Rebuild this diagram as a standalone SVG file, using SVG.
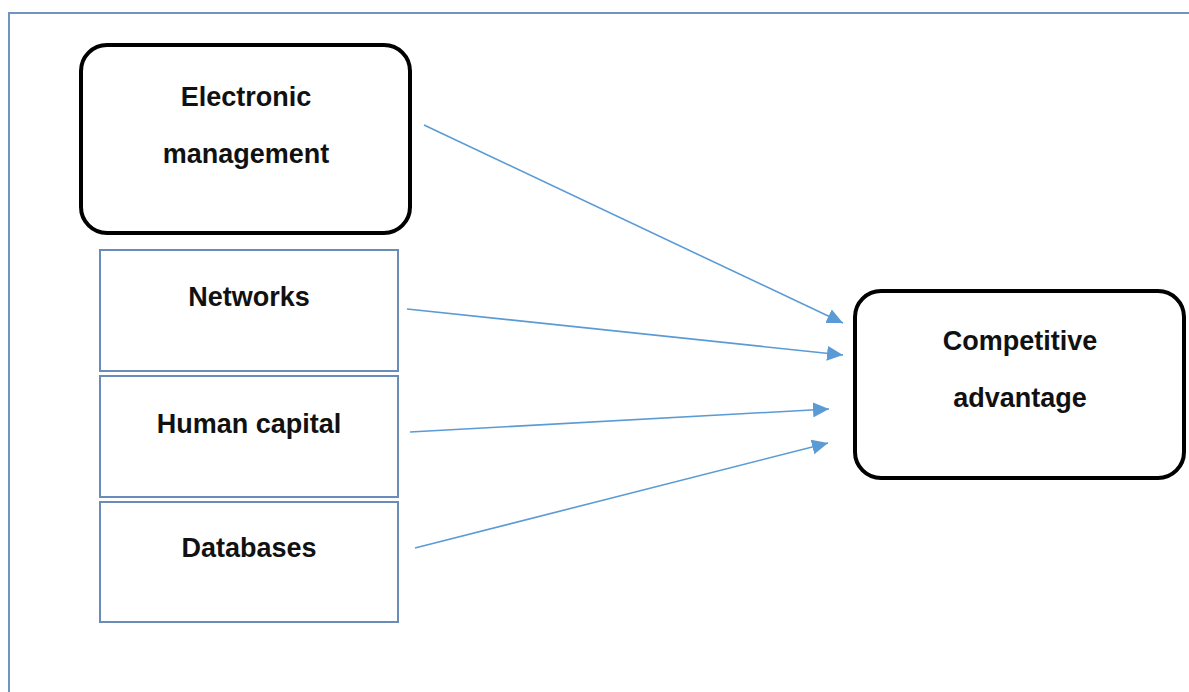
<svg xmlns="http://www.w3.org/2000/svg" width="1189" height="692" viewBox="0 0 1189 692">
<style>
.frame{fill:none;stroke:#7094c0;stroke-width:2}
.rbox{fill:#fff;stroke:#000;stroke-width:4}
.sbox{fill:#fff;stroke:#6a8cb8;stroke-width:2}
.t{font-family:"Liberation Sans",Arial,sans-serif;font-weight:bold;font-size:27px;fill:#111;text-anchor:middle}
.c{fill:none;stroke:#5b9bd5;stroke-width:1.6}
</style>
<defs>
<marker id="ah" markerUnits="userSpaceOnUse" markerWidth="16" markerHeight="15" refX="16" refY="7.5" orient="auto">
<path d="M0,0 L16,7.5 L0,15 Z" fill="#5b9bd5"/>
</marker>
</defs>
<rect width="1189" height="692" fill="#fff"/>
<path class="frame" d="M9,700 L9,13 L1195,13"/>
<g id="electronic-management">
<rect class="rbox" x="81" y="45" width="329" height="188" rx="26"/>
<text class="t" x="246" y="106">Electronic</text>
<text class="t" x="246" y="163">management</text>
</g>
<g id="networks">
<rect class="sbox" x="100" y="250" width="298" height="121"/>
<text class="t" x="249" y="306">Networks</text>
</g>
<g id="human-capital">
<rect class="sbox" x="100" y="376" width="298" height="121"/>
<text class="t" x="249" y="433">Human capital</text>
</g>
<g id="databases">
<rect class="sbox" x="100" y="502" width="298" height="120"/>
<text class="t" x="249" y="557">Databases</text>
</g>
<g id="competitive-advantage">
<rect class="rbox" x="855" y="291" width="329" height="187" rx="26"/>
<text class="t" x="1020" y="350">Competitive</text>
<text class="t" x="1020" y="407">advantage</text>
</g>
<g id="connectors">
<line class="c" x1="424" y1="125" x2="843" y2="323" marker-end="url(#ah)"/>
<line class="c" x1="407" y1="309" x2="843" y2="355" marker-end="url(#ah)"/>
<line class="c" x1="410" y1="432" x2="829" y2="409" marker-end="url(#ah)"/>
<line class="c" x1="415" y1="548" x2="828" y2="443" marker-end="url(#ah)"/>
</g>
</svg>
